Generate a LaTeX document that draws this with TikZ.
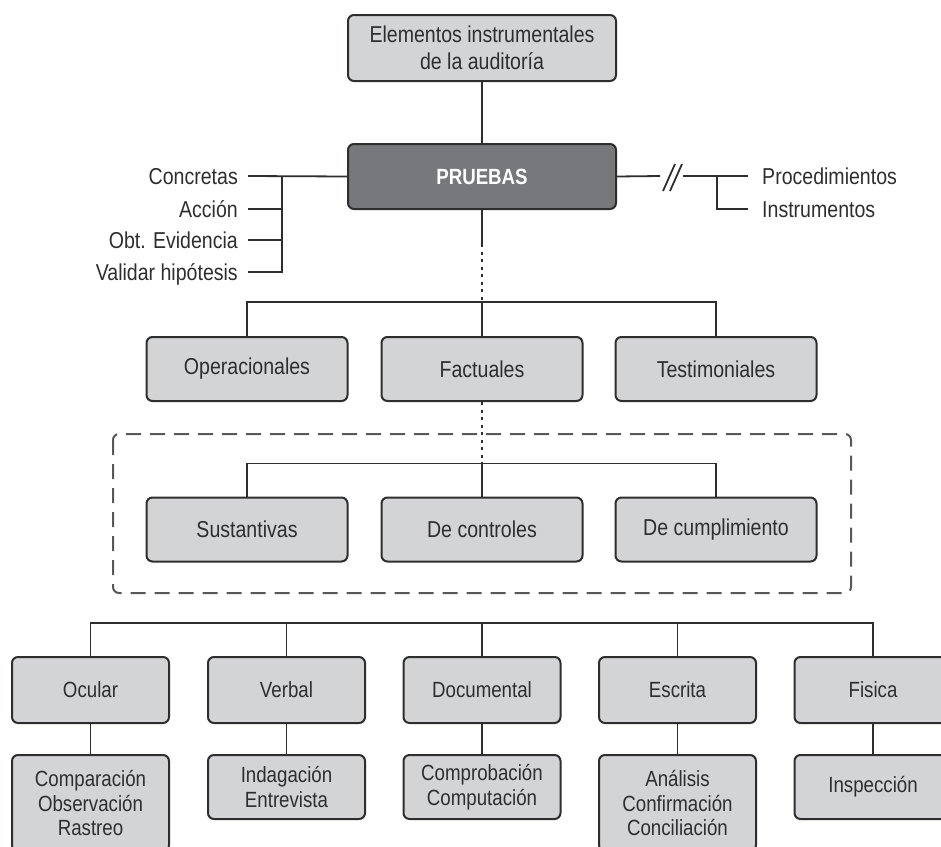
\documentclass[tikz,border=0pt]{standalone}
\usepackage{fontspec}
\setmainfont{Liberation Sans}[FakeStretch=0.85]
\definecolor{grisclaro}{HTML}{D3D4D6}
\definecolor{grisoscuro}{HTML}{77787B}
\definecolor{tinta}{HTML}{2E2E2E}
\begin{document}
\begin{tikzpicture}[x=1pt,y=-1pt,
    caja/.style={draw=tinta,line width=2pt,fill=grisclaro,rounded corners=6pt,inner sep=0pt,
        align=center,text=tinta,minimum width=201pt,minimum height=64pt,font=\fontsize{23}{27}\selectfont},
    cajab/.style={caja,minimum width=157pt,font=\fontsize{22}{24.5}\selectfont},
    linea/.style={draw=tinta,line width=1.8pt},
    punteado/.style={draw=tinta,line width=2pt,dash pattern=on 3pt off 4.5pt},
    rayado/.style={draw=tinta!80,line width=2pt,dash pattern=on 15pt off 9pt,rounded corners=6pt},
    etiq/.style={text=tinta,inner sep=0pt,text height=16.5pt,text depth=0pt,font=\fontsize{23}{27}\selectfont}]
    \clip (0,0) rectangle (941,846);
    % cabecera
    \node[caja,minimum width=268pt,minimum height=66pt] (elem) at (482,48) {Elementos instrumentales\\de la auditoría};
    \node[caja,minimum width=268pt,minimum height=65pt,fill=grisoscuro,text=white,
        font=\bfseries\fontsize{22}{25}\selectfont] (pruebas) at (482,176.5) {PRUEBAS};
    \draw[linea] (elem) -- (pruebas);
    % caracteristicas
    \node[etiq,anchor=east] (concretas) at (238,176) {Concretas};
    \node[etiq,anchor=east] (accion) at (238,209) {Acción};
    \node[etiq,anchor=east] (evidencia) at (238,240) {Obt. Evidencia};
    \node[etiq,anchor=east] (hipotesis) at (238,272) {Validar hipótesis};
    \coordinate (llaveI) at (282,176);
    \draw[linea] (pruebas.west) -- ([xshift=10pt]concretas.east);
    \draw[linea] ([xshift=10pt]hipotesis.east) -| (llaveI);
    \draw[linea] ([xshift=10pt]accion.east) -- (accion.east -| llaveI);
    \draw[linea] ([xshift=10pt]evidencia.east) -- (evidencia.east -| llaveI);
    % procedimientos
    \node[etiq,anchor=west] (proced) at (762,176) {Procedimientos};
    \node[etiq,anchor=west] (instrum) at (762,209) {Instrumentos};
    \coordinate (corteA) at (660,176);
    \coordinate (corteB) at (683,176);
    \coordinate (llaveD) at (717,176);
    \draw[linea] (pruebas.east) -- (corteA);
    \draw[linea] (663,191) -- (675,164) (670,191) -- (682,164);
    \draw[linea] (corteB) -- ([xshift=-14pt]proced.west);
    \draw[linea] (llaveD) |- ([xshift=-14pt]instrum.west);
    % tipos
    \node[caja] (operac) at (247,369) {Operacionales};
    \node[caja] (factual) at (482,369) {Factuales};
    \node[caja] (testim) at (716,369) {Testimoniales};
    \draw[linea] (pruebas.south) -- ++(0,34) coordinate (finA);
    \draw[linea] (operac.north) -- ++(0,-34) -| (testim.north);
    \draw[linea] (factual.north) -- ++(0,-34) coordinate (ramaA);
    \draw[punteado] (finA) -- (ramaA);
    % grupo punteado
    \draw[rayado] (113,434) rectangle (851,593);
    \node[caja] (sustant) at (247,529.5) {Sustantivas};
    \node[caja] (control) at (482,529.5) {De controles};
    \node[caja] (cumpl) at (716,529.5) {De cumplimiento};
    \draw[linea] (sustant.north) -- ++(0,-33) -| (cumpl.north);
    \draw[linea] (control.north) -- ++(0,-33) coordinate (ramaB);
    \draw[punteado] (factual.south) -- (ramaB);
    % evidencias
    \foreach \nom/\x/\txt in {ocular/90.5/Ocular,verbal/286.5/Verbal,documental/482/Documental,
        escrita/677.5/Escrita,fisica/873/Fisica}
        \node[cajab,minimum height=66pt] (\nom) at (\x,690) {\txt};
    \node[cajab,anchor=north,minimum height=96pt] (tecOcular) at (90.5,754) {Comparación\\Observación\\Rastreo};
    \node[cajab,anchor=north] (tecVerbal) at (286.5,754) {Indagación\\Entrevista};
    \node[cajab,anchor=north] (tecDoc) at (482,754) {Comprobación\\Computación};
    \node[cajab,anchor=north,minimum height=96pt] (tecEscrita) at (677.5,754) {Análisis\\Confirmación\\Conciliación};
    \node[cajab,anchor=north] (tecFisica) at (873,754) {Inspección};
    \draw[linea] (ocular.north) -- ++(0,-33) -| (fisica.north);
    \foreach \nom in {verbal,documental,escrita}
        \draw[linea] (\nom.north) -- ++(0,-33);
    \draw[linea] (ocular) -- (tecOcular);
    \draw[linea] (verbal) -- (tecVerbal);
    \draw[linea] (documental) -- (tecDoc);
    \draw[linea] (escrita) -- (tecEscrita);
    \draw[linea] (fisica) -- (tecFisica);
\end{tikzpicture}
\end{document}
